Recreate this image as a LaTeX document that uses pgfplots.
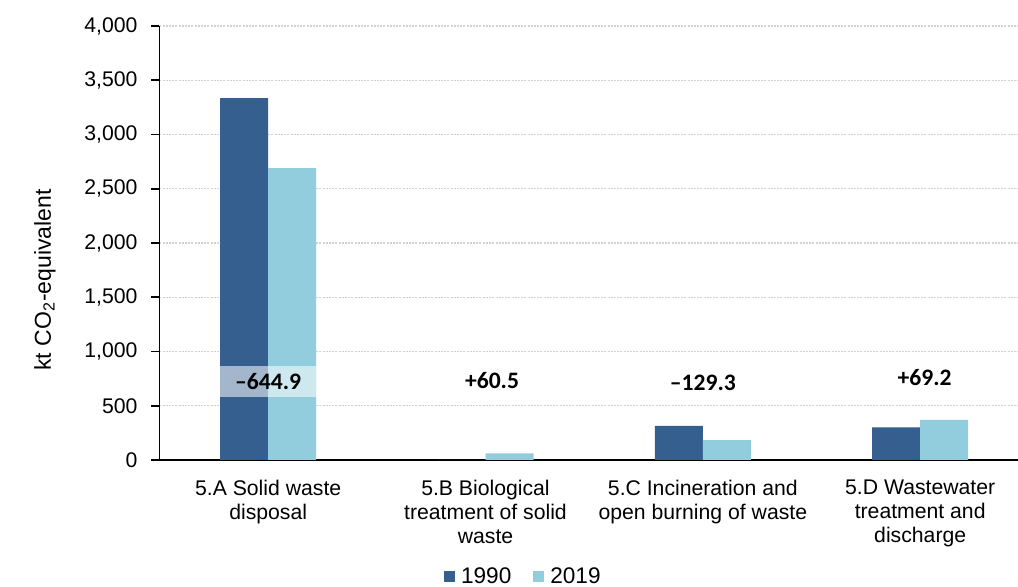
\documentclass[border=0pt]{standalone}
\usepackage{pgfplots}
\pgfplotsset{compat=1.18}
\usepackage{fontspec}
\setmainfont{Liberation Sans}
\newfontfamily\carlito{Carlito}
\definecolor{dblue}{HTML}{355F8F}
\definecolor{lblue}{HTML}{92CDDD}
\pgfplotsset{sqlegend/.style={legend image code/.code={\fill[##1] (0pt,-2.5pt) rectangle (5.5pt,3pt);}}}
\begin{document}
\begin{tikzpicture}
\useasboundingbox (-79.75pt,-63.5pt) rectangle (429.25pt,230pt);
\begin{axis}[
  at={(0,0)}, anchor=south west,
  scale only axis, width=429.25pt, height=217pt,
  xmin=-0.5, xmax=3.45, ymin=0, ymax=4000,
  ybar=0pt, bar width=24pt,
  axis x line=bottom, axis y line=left,
  axis line style={-, black, line width=0.8pt},
  ytick={0,500,...,4000},
  tick align=outside,
  major tick length=4pt,
  y tick style={black, line width=0.8pt},
  yticklabel style={font=\fontsize{10.6}{12}\selectfont, xshift=-3.5pt},
  /pgf/number format/assume math mode=true,
  /pgf/number format/1000 sep={,},
  ymajorgrids,
  major grid style={gray!35, dash pattern=on 1pt off 0.6pt, line width=0.6pt},
  xtick={0,1,2,3},
  xticklabels={{5.A Solid waste\\disposal},{5.B Biological\\treatment of solid\\waste},{5.C Incineration and\\open burning of waste},{5.D Wastewater\\treatment and\\discharge}},
  x tick style={draw=none},
  xticklabel style={align=center, font=\fontsize{10.6}{12}\selectfont, yshift=-2.5pt},
  extra x ticks={0.5,1.5,2.5},
  extra x tick labels={},
  extra x tick style={grid=none, major tick style={draw=black, line width=0.8pt}, major tick length=4.5pt},
  ylabel={kt CO\textsubscript{2}-equivalent},
  ylabel style={at={(rel axis cs:-0.1334,0.415)}, anchor=center, font=\fontsize{11.5}{13}\selectfont},
  legend style={at={(rel axis cs:0.425,-0.269)}, anchor=center, draw=none, fill=none,
    legend columns=2, font=\fontsize{11.3}{13}\selectfont,
    /tikz/every even column/.append style={column sep=9pt},
    /tikz/every odd column/.append style={column sep=1pt}},
  clip=false,
]
\addplot[fill=dblue, draw=none, sqlegend]
  coordinates {(0,3335) (1,0) (2,313.3) (3,300)};
\addlegendentry{1990}
\addplot[fill=lblue, draw=none, sqlegend]
  coordinates {(0,2690.1) (1,60.5) (2,184) (3,369.2)};
\addlegendentry{2019}
\fill[white, opacity=0.55] (axis cs:-0.221,580) rectangle (axis cs:0.221,866);
\node[font=\carlito\bfseries\fontsize{11.8}{13}\selectfont] at (axis cs:0,725) {–644.9};
\node[font=\carlito\bfseries\fontsize{11.8}{13}\selectfont] at (axis cs:1.03,730) {+60.5};
\node[font=\carlito\bfseries\fontsize{11.8}{13}\selectfont] at (axis cs:2.0,710) {–129.3};
\node[font=\carlito\bfseries\fontsize{11.8}{13}\selectfont] at (axis cs:3.02,760) {+69.2};
\end{axis}
\end{tikzpicture}
\end{document}
